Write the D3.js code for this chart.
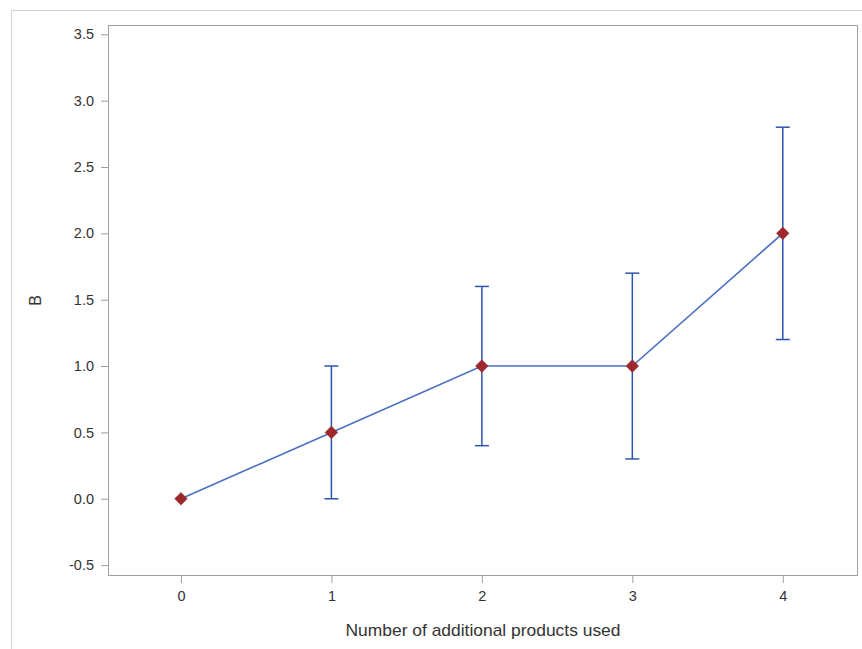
<!DOCTYPE html>
<html><head><meta charset="utf-8">
<script src="https://cdn.jsdelivr.net/npm/d3@7"></script>
<style>body{margin:0;background:#fff;}text{font-family:"Liberation Sans",Arial,sans-serif;}</style>
</head><body>
<svg id="c" width="862" height="649"></svg>
<script>
const categories = [0, 1, 2, 3, 4];
const means = [0, 0.5, 1.0, 1.0, 2.0];
const lower = [null, 0.0, 0.4, 0.3, 1.2];
const upper = [null, 1.0, 1.6, 1.7, 2.8];
const yTicks = [-0.5, 0, 0.5, 1.0, 1.5, 2.0, 2.5, 3.0, 3.5];
const xLabel = "Number of additional products used";
const yLabel = "B";

const svg = d3.select("#c");
svg.append("rect").attr("x",11.5).attr("y",10.5).attr("width",862).attr("height",660)
  .attr("fill","none").attr("stroke","#d4d4d4");

const L=108, R=858, T=25, B=576;
const x = d3.scaleLinear().domain([-0.485, 4.5]).range([L, R]);
const y = d3.scaleLinear().domain([-0.582, 3.57]).range([B, T]);

svg.append("rect").attr("x",L+0.5).attr("y",T+0.5).attr("width",R-L-1).attr("height",B-T-1)
  .attr("fill","none").attr("stroke","#a0a0a0");

const fmtY = d => d3.format(".1f")(d).replace("\u2212","-");
const yAxis = svg.append("g").attr("transform",`translate(${L},0)`)
  .call(d3.axisLeft(y).tickValues(yTicks).tickFormat(fmtY).tickSize(7).tickPadding(7));
const xAxis = svg.append("g").attr("transform",`translate(0,${B})`)
  .call(d3.axisBottom(x).tickValues(categories).tickFormat(d3.format("d")).tickSize(7).tickPadding(8));
[yAxis,xAxis].forEach(a=>{
  a.select(".domain").remove();
  a.selectAll("line").attr("stroke","#a0a0a0");
  a.selectAll("text").attr("fill","#333").style("font-size","14.5px").style("font-family","'Liberation Sans',Arial,sans-serif");
});

svg.append("text").attr("x",(L+R)/2).attr("y",636).attr("text-anchor","middle")
  .attr("fill","#333").style("font-size","17px").attr("textLength",275).attr("lengthAdjust","spacingAndGlyphs").text(xLabel);
svg.append("text").attr("transform",`translate(41,${(T+B)/2}) rotate(-90)`).attr("text-anchor","middle")
  .attr("fill","#333").style("font-size","16px").text(yLabel);

const eb = categories.map((c,i)=>({c,lo:lower[i],hi:upper[i]})).filter(d=>d.lo!==null);
const ebColor = "#2c54ae";
const g = svg.append("g");
g.selectAll(".v").data(eb).join("line").attr("x1",d=>x(d.c)).attr("x2",d=>x(d.c))
  .attr("y1",d=>y(d.lo)).attr("y2",d=>y(d.hi)).attr("stroke",ebColor).attr("stroke-width",1.5);
g.selectAll(".capl").data(eb).join("line").attr("x1",d=>x(d.c)-7).attr("x2",d=>x(d.c)+7)
  .attr("y1",d=>y(d.lo)).attr("y2",d=>y(d.lo)).attr("stroke",ebColor).attr("stroke-width",1.5);
g.selectAll(".caph").data(eb).join("line").attr("x1",d=>x(d.c)-7).attr("x2",d=>x(d.c)+7)
  .attr("y1",d=>y(d.hi)).attr("y2",d=>y(d.hi)).attr("stroke",ebColor).attr("stroke-width",1.5);

const pts = categories.map((c,i)=>[c,means[i]]);
svg.append("path").datum(pts).attr("d",d3.line().x(d=>x(d[0])).y(d=>y(d[1])))
  .attr("fill","none").attr("stroke","#4a70c4").attr("stroke-width",1.6);

svg.selectAll(".m").data(pts).join("path")
  .attr("d",d3.symbol(d3.symbolSquare, 80))
  .attr("transform",d=>`translate(${x(d[0])},${y(d[1])}) rotate(45)`)
  .attr("fill","#a0282d").attr("stroke","#8a2a2e").attr("stroke-width",0.5);
</script>
</body></html>
